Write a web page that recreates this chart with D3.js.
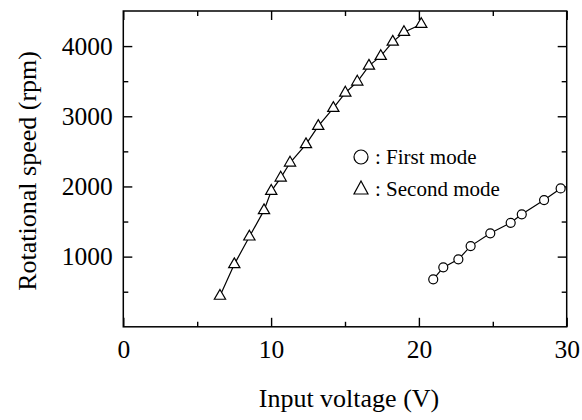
<!DOCTYPE html>
<html>
<head>
<meta charset="utf-8">
<script src="https://cdn.jsdelivr.net/npm/d3@7"></script>
<style>
  body { margin: 0; background: #fff; }
  svg, svg text { font-family: "Liberation Serif", "DejaVu Serif", "Times New Roman", Times, serif !important; }
</style>
</head>
<body>
<div id="chart"></div>
<script>
// first mode (circles)
var firstVoltage = [20.97, 21.65, 22.67, 23.50, 24.83, 26.21, 26.96, 28.47, 29.59];
var firstSpeed = [676, 847, 961, 1150, 1332, 1482, 1603, 1806, 1972];
// second mode (triangles)
var secondVoltage = [6.54, 7.51, 8.53, 9.52, 10.01, 10.65, 11.28, 12.36, 13.19, 14.21, 15.02, 15.83, 16.62, 17.42, 18.23, 18.99, 20.16];
var secondSpeed = [439, 890, 1283, 1659, 1934, 2123, 2337, 2599, 2860, 3116, 3334, 3491, 3718, 3856, 4060, 4198, 4312];

var xMajor = [0, 10, 20, 30];
var xMinor = [5, 15, 25];
var yMajor = [1000, 2000, 3000, 4000];
var yMinor = [500, 1500, 2500, 3500];

var margin = { top: 11, right: 15.3, bottom: 93.2, left: 123.3 },
  width = 582 - margin.left - margin.right,
  height = 420 - margin.top - margin.bottom;

var svg = d3.select("#chart")
  .append("svg")
  .attr("width", 582)
  .attr("height", 420);

var g = svg.append("g")
  .attr("transform", `translate(${margin.left},${margin.top})`);

var x = d3.scaleLinear().domain([0, 30]).range([0, width]);
var y = d3.scaleLinear().domain([0, 4500]).range([height, 0]);

function styleAxis(sel) {
  sel.attr("font-family", null).attr("font-size", null);
  sel.select(".domain").remove();
  sel.selectAll("line").attr("stroke", "#000").attr("stroke-width", 1.4);
  sel.selectAll("text").attr("fill", "#000").style("font-size", "25.5px");
}

// bottom / left with labels
g.append("g").attr("transform", `translate(0,${height})`)
  .call(d3.axisBottom(x).tickValues(xMajor).tickSize(-9).tickPadding(13).tickFormat(d3.format("d")))
  .call(styleAxis);
g.append("g").attr("transform", `translate(0,${height})`)
  .call(d3.axisBottom(x).tickValues(xMinor).tickSize(-5).tickFormat(""))
  .call(styleAxis);
g.append("g")
  .call(d3.axisLeft(y).tickValues(yMajor).tickSize(-9).tickPadding(10.5).tickFormat(d3.format("d")))
  .call(styleAxis);
g.append("g")
  .call(d3.axisLeft(y).tickValues(yMinor).tickSize(-5).tickFormat(""))
  .call(styleAxis);

// top / right mirror ticks
g.append("g")
  .call(d3.axisTop(x).tickValues(xMajor).tickSize(-9).tickFormat(""))
  .call(styleAxis);
g.append("g")
  .call(d3.axisTop(x).tickValues(xMinor).tickSize(-5).tickFormat(""))
  .call(styleAxis);
g.append("g").attr("transform", `translate(${width},0)`)
  .call(d3.axisRight(y).tickValues(yMajor).tickSize(-9).tickFormat(""))
  .call(styleAxis);
g.append("g").attr("transform", `translate(${width},0)`)
  .call(d3.axisRight(y).tickValues(yMinor).tickSize(-5).tickFormat(""))
  .call(styleAxis);

// frame
g.append("rect")
  .attr("width", width)
  .attr("height", height)
  .attr("fill", "none")
  .attr("stroke", "#000")
  .attr("stroke-width", 1.5);

var firstData = firstVoltage.map((v, i) => ({ v: v, s: firstSpeed[i] }));
var secondData = secondVoltage.map((v, i) => ({ v: v, s: secondSpeed[i] }));

var line = d3.line().x(d => x(d.v)).y(d => y(d.s));

g.append("path").datum(secondData)
  .attr("d", line).attr("fill", "none").attr("stroke", "#000").attr("stroke-width", 1.2);
g.append("path").datum(firstData)
  .attr("d", line).attr("fill", "none").attr("stroke", "#000").attr("stroke-width", 1.2);

var tri = d3.symbol().type(d3.symbolTriangle).size(55);

g.selectAll(".tri")
  .data(secondData)
  .enter()
  .append("path")
  .attr("class", "tri")
  .attr("d", tri)
  .attr("transform", d => `translate(${x(d.v)},${y(d.s)})`)
  .attr("fill", "#fff")
  .attr("stroke", "#000")
  .attr("stroke-width", 1.2);

g.selectAll(".circ")
  .data(firstData)
  .enter()
  .append("circle")
  .attr("class", "circ")
  .attr("cx", d => x(d.v))
  .attr("cy", d => y(d.s))
  .attr("r", 4.5)
  .attr("fill", "#fff")
  .attr("stroke", "#000")
  .attr("stroke-width", 1.2);

// legend
var legend = svg.append("g").style("font-size", "21px");
legend.append("circle")
  .attr("cx", 361).attr("cy", 157).attr("r", 7)
  .attr("fill", "none").attr("stroke", "#000").attr("stroke-width", 1.2);
legend.append("text").attr("x", 375).attr("y", 164).text(": First mode");
legend.append("path")
  .attr("d", "M354,194 L368,194 L361,181 Z")
  .attr("fill", "none").attr("stroke", "#000").attr("stroke-width", 1.2);
legend.append("text").attr("x", 375).attr("y", 196).text(": Second mode");

// axis titles
svg.append("text")
  .attr("x", margin.left + width / 2 + 4)
  .attr("y", 407)
  .attr("text-anchor", "middle")
  .style("font-size", "26px")
  .text("Input voltage (V)");

svg.append("text")
  .attr("transform", `translate(36,${margin.top + height / 2 + 2}) rotate(-90)`)
  .attr("text-anchor", "middle")
  .style("font-size", "26px")
  .text("Rotational speed (rpm)");
</script>
</body>
</html>
